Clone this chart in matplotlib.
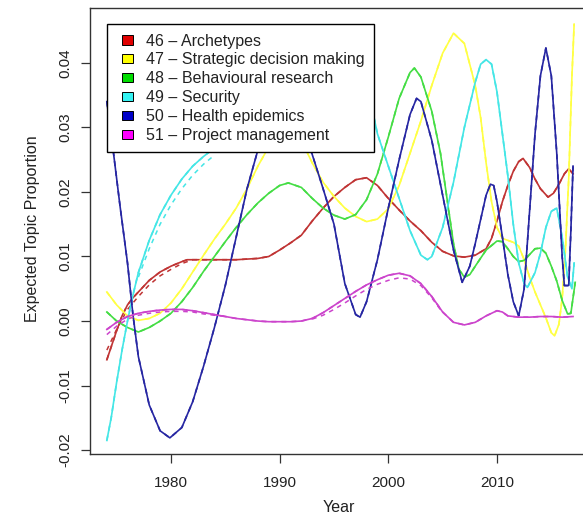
import matplotlib
matplotlib.use("Agg")
import matplotlib.pyplot as plt
from matplotlib.patches import Patch, Rectangle
from matplotlib.legend_handler import HandlerPatch

plt.rcParams['font.family'] = ['Liberation Sans', 'DejaVu Sans']

# topic labels and colours
topic_labels = ["46 \u2013 Archetypes", "47 \u2013 Strategic decision making",
                "48 \u2013 Behavioural research", "49 \u2013 Security",
                "50 \u2013 Health epidemics", "51 \u2013 Project management"]
line_colors = ['#C03434', '#FFFF44', '#44DD44', '#44E6E6', '#2626A2', '#CC44CC']
legend_colors = ['#E00000', '#FFFF00', '#00DD00', '#33F2F2', '#0000C8', '#FF00FF']

# 46 - Archetypes
t46_years = [1974.1, 1974.5, 1975, 1975.5, 1976, 1976.5, 1977, 1978, 1979, 1980, 1981, 1981.5,
             1982, 1984, 1986, 1988, 1989, 1990, 1991, 1992, 1993, 1994, 1995, 1996, 1997, 1998,
             1999, 2000, 2001, 2002, 2003, 2004, 2005, 2006, 2007, 2008, 2009, 2009.5, 2010, 2010.5,
             2011, 2011.5, 2012, 2012.4, 2013, 2013.5, 2014, 2014.7, 2015.2, 2015.7, 2016.2,
             2016.6, 2017]
t46_vals = [-0.0060, -0.0040, -0.0015, 0.0008, 0.0025, 0.0036, 0.0045, 0.0063, 0.0076, 0.0085,
            0.0092, 0.0095, 0.0095, 0.0095, 0.0095, 0.0097, 0.0100, 0.0110, 0.0121, 0.0133,
            0.0155, 0.0175, 0.0193, 0.0207, 0.0219, 0.0222, 0.0210, 0.0190, 0.0172, 0.0155,
            0.0140, 0.0122, 0.0108, 0.0101, 0.0099, 0.0102, 0.0112, 0.0128, 0.0155, 0.0185,
            0.0210, 0.0232, 0.0247, 0.0252, 0.0238, 0.0220, 0.0205, 0.0192, 0.0198, 0.0212,
            0.0228, 0.0236, 0.0228]
t46_dash_years = [1974.1, 1975, 1976, 1977, 1978, 1979, 1980, 1981, 1982]
t46_dash_vals = [-0.0045, -0.0013, 0.0018, 0.0038, 0.0056, 0.0070, 0.0080, 0.0089, 0.0095]

# 47 - Strategic decision making
t47_years = [1974.1, 1975, 1976, 1977, 1978, 1979, 1980, 1981, 1982, 1983, 1984, 1985, 1986,
             1987, 1988, 1989, 1990, 1991, 1992, 1993, 1994, 1995, 1996, 1997, 1998, 1999, 2000,
             2001, 2002, 2003, 2004, 2005, 2006, 2007, 2008, 2008.5, 2009, 2009.5, 2010, 2010.5,
             2011, 2011.5, 2012, 2012.5, 2013, 2013.5, 2014, 2014.5, 2015, 2015.3, 2015.7, 2016,
             2016.3, 2016.6, 2016.9, 2017.1]
t47_vals = [0.0045, 0.0025, 0.0008, 0.0001, 0.0004, 0.0012, 0.0028, 0.0050, 0.0076, 0.0102,
            0.0127, 0.0150, 0.0175, 0.0205, 0.0240, 0.0270, 0.0290, 0.0295, 0.0280, 0.0245,
            0.0215, 0.0193, 0.0175, 0.0162, 0.0154, 0.0158, 0.0174, 0.0210, 0.0260, 0.0310,
            0.0365, 0.0415, 0.0446, 0.0430, 0.0365, 0.0315, 0.0245, 0.0185, 0.0145, 0.0128,
            0.0125, 0.0122, 0.0116, 0.0095, 0.0068, 0.0045, 0.0025, 0.0005, -0.0018, -0.0023,
            -0.0005, 0.0035, 0.0110, 0.0220, 0.0380, 0.0460]

# 48 - Behavioural research
t48_years = [1974.1, 1975, 1976, 1977, 1978, 1979, 1980, 1981, 1982, 1983, 1984, 1985, 1986,
             1987, 1988, 1989, 1990, 1990.8, 1992, 1993, 1994, 1995, 1996, 1997, 1998, 1999,
             2000, 2001, 2002, 2002.4, 2003, 2004, 2004.8, 2005.4, 2006, 2006.5, 2007, 2007.5,
             2008, 2009, 2010, 2010.5, 2011, 2011.5, 2012, 2012.5, 2013, 2013.5, 2014, 2014.5,
             2015, 2015.5, 2016, 2016.5, 2016.8, 2017.2]
t48_vals = [0.0014, 0.0000, -0.0010, -0.0017, -0.0010, 0.0000, 0.0012, 0.0030, 0.0052, 0.0077,
            0.0100, 0.0123, 0.0145, 0.0165, 0.0183, 0.0198, 0.0210, 0.0214, 0.0207, 0.0190,
            0.0175, 0.0164, 0.0158, 0.0165, 0.0188, 0.0228, 0.0285, 0.0345, 0.0385, 0.0392,
            0.0378, 0.0325, 0.0260, 0.0190, 0.0120, 0.0080, 0.0068, 0.0072, 0.0085, 0.0110,
            0.0124, 0.0123, 0.0112, 0.0100, 0.0092, 0.0094, 0.0103, 0.0112, 0.0113, 0.0105,
            0.0085, 0.0062, 0.0032, 0.0011, 0.0012, 0.0060]

# 49 - Security
t49_years = [1974.1, 1974.5, 1975, 1975.5, 1976, 1976.5, 1977, 1978, 1979, 1980, 1981, 1982,
             1983, 1984, 1986, 1988, 1990, 1992, 1994, 1996, 1997, 1998, 1998.5, 1999, 2000,
             2001, 2002, 2003, 2003.6, 2004, 2005, 2006, 2007, 2008, 2008.5, 2009, 2009.5, 2010,
             2010.5, 2011, 2011.5, 2012, 2012.5, 2012.8, 2013.5, 2014, 2014.5, 2015, 2015.5,
             2016, 2016.5, 2016.9, 2017.1]
t49_vals = [-0.0185, -0.0150, -0.0095, -0.0045, 0.0000, 0.0040, 0.0075, 0.0125, 0.0165, 0.0195,
            0.0220, 0.0240, 0.0255, 0.0268, 0.0292, 0.0315, 0.0335, 0.0350, 0.0362, 0.0360,
            0.0352, 0.0340, 0.0330, 0.0290, 0.0240, 0.0190, 0.0140, 0.0102, 0.0095, 0.0100,
            0.0145, 0.0215, 0.0300, 0.0370, 0.0398, 0.0405, 0.0398, 0.0355, 0.0290, 0.0225,
            0.0150, 0.0090, 0.0058, 0.0052, 0.0075, 0.0105, 0.0145, 0.0170, 0.0175, 0.0130,
            0.0068, 0.0050, 0.0090]
t49_dash_years = [1977, 1978, 1979, 1980, 1981, 1982, 1983, 1984]
t49_dash_vals = [0.0068, 0.0112, 0.0150, 0.0180, 0.0205, 0.0226, 0.0243, 0.0257]

# 50 - Health epidemics
t50_years = [1974.1, 1974.7, 1975.3, 1976, 1976.5, 1977, 1978, 1979, 1979.9, 1981, 1982, 1983,
             1984, 1985, 1986, 1987, 1988, 1989, 1990, 1991, 1992, 1993, 1994, 1995, 1996, 1997,
             1997.4, 1998, 1999, 2000, 2001, 2002, 2002.6, 2003, 2004, 2005, 2006, 2006.8,
             2007.5, 2008, 2009, 2009.4, 2009.7, 2010, 2010.5, 2011, 2011.5, 2012, 2012.5, 2013,
             2013.5, 2014, 2014.5, 2015, 2015.5, 2016, 2016.2, 2016.6, 2016.8, 2017]
t50_vals = [0.0340, 0.0262, 0.0180, 0.0090, 0.0010, -0.0055, -0.0130, -0.0170, -0.0181, -0.0165,
            -0.0125, -0.0070, -0.0010, 0.0055, 0.0130, 0.0205, 0.0265, 0.0320, 0.0345, 0.0340,
            0.0305, 0.0258, 0.0205, 0.0150, 0.0058, 0.0010, 0.0006, 0.0030, 0.0095, 0.0175,
            0.0250, 0.0320, 0.0345, 0.0340, 0.0280, 0.0195, 0.0110, 0.0060, 0.0085, 0.0120,
            0.0195, 0.0212, 0.0210, 0.0185, 0.0130, 0.0072, 0.0030, 0.0008, 0.0050, 0.0170,
            0.0290, 0.0380, 0.0423, 0.0380, 0.0260, 0.0100, 0.0055, 0.0055, 0.0140, 0.0240]

# 51 - Project management
t51_years = [1974.1, 1975, 1976, 1977, 1978, 1979, 1980, 1981, 1982, 1983, 1984, 1985, 1986,
             1987, 1988, 1989, 1990, 1991, 1992, 1993, 1994, 1995, 1996, 1997, 1998, 1999, 2000,
             2001, 2002, 2003, 2004, 2005, 2006, 2007, 2008, 2009, 2010, 2010.5, 2011, 2012,
             2013, 2014, 2015, 2016, 2017]
t51_vals = [-0.0013, -0.0002, 0.0007, 0.0012, 0.0015, 0.0017, 0.0018, 0.0018, 0.0016, 0.0013,
            0.0010, 0.0007, 0.0004, 0.0002, 0.0000, -0.0001, -0.0001, -0.0001, 0.0000, 0.0004,
            0.0013, 0.0024, 0.0035, 0.0046, 0.0056, 0.0064, 0.0071, 0.0074, 0.0070, 0.0058,
            0.0038, 0.0014, -0.0002, -0.0006, -0.0002, 0.0008, 0.0016, 0.0014, 0.0008, 0.0006,
            0.0006, 0.0007, 0.0007, 0.0006, 0.0007]
t51_dash1_years = [1974.1, 1975, 1976, 1977, 1978, 1979, 1980, 1981, 1982, 1983, 1984, 1985]
t51_dash1_vals = [-0.0021, -0.0008, 0.0003, 0.0009, 0.0012, 0.0014, 0.0015, 0.0015, 0.0014,
                  0.0011, 0.0009, 0.0007]
t51_dash2_years = [1993, 1994, 1995, 1996, 1997, 1998, 1999, 2000, 2001, 2002, 2003, 2004, 2005]
t51_dash2_vals = [0.0003, 0.0009, 0.0018, 0.0028, 0.0039, 0.0049, 0.0057, 0.0063, 0.0067,
                  0.0065, 0.0055, 0.0036, 0.0013]

x_ticks = [1980, 1990, 2000, 2010]
y_ticks = [-0.02, -0.01, 0.00, 0.01, 0.02, 0.03, 0.04]
y_tick_labels = ["-0.02", "-0.01", "0.00", "0.01", "0.02", "0.03", "0.04"]

series = [
    (t46_years, t46_vals, [(t46_dash_years, t46_dash_vals)]),
    (t47_years, t47_vals, []),
    (t48_years, t48_vals, []),
    (t49_years, t49_vals, [(t49_dash_years, t49_dash_vals)]),
    (t50_years, t50_vals, []),
    (t51_years, t51_vals, [(t51_dash1_years, t51_dash1_vals), (t51_dash2_years, t51_dash2_vals)]),
]


def small_square(legend, orig_handle, xdescent, ydescent, width, height, fontsize):
    # square key sitting at the right end of the handle box, like R's legend fill boxes
    w = 0.68 * fontsize
    h = 0.58 * fontsize
    return Rectangle((-xdescent + width - w, -ydescent + (height - h) / 2), w, h)


fig = plt.figure(figsize=(5.83, 5.19), dpi=100)
ax = fig.add_axes([90 / 583, 65 / 519, 495 / 583, 446 / 519])

dash = (0, (3, 3))
for (yrs, vals, extra), col in zip(series, line_colors):
    ax.plot(yrs, vals, color=col, lw=1.2)
    ax.plot(yrs, vals, color=col, lw=1.2, linestyle=dash)
    for dy, dv in extra:
        ax.plot(dy, dv, color=col, lw=1.1, linestyle=dash)

ax.set_xlim(1972.55, 2018.1)
ax.set_ylim(-0.0206, 0.0485)
ax.set_xticks(x_ticks)
ax.set_xticklabels([str(t) for t in x_ticks])
ax.set_yticks(y_ticks)
ax.set_yticklabels(y_tick_labels, rotation=90, va='center')

for s in ax.spines.values():
    s.set_color('#333333')
    s.set_linewidth(1.0)
ax.tick_params(direction='out', length=6.5, width=0.9, color='#333333',
               labelsize=11, labelcolor='#222222')
ax.tick_params(axis='x', pad=9)
ax.tick_params(axis='y', pad=6.2)

fig.text(33 / 583, 1 - 229 / 519, "Expected Topic Proportion", rotation=90,
         ha='center', va='center', fontsize=11.5, color='#222222')
fig.text(339 / 583, 1 - 508 / 519, "Year", ha='center', va='center',
         fontsize=11.5, color='#222222')

handles = [Patch(facecolor=c, edgecolor='black', linewidth=0.7) for c in legend_colors]
leg = ax.legend(handles, topic_labels, loc='upper left',
                bbox_to_anchor=(107 / 583, 1 - 24 / 519), bbox_transform=fig.transFigure,
                fontsize=11.5, frameon=True, fancybox=False, edgecolor='black', framealpha=1,
                borderaxespad=0, handlelength=1.0, handleheight=0.7, handletextpad=0.84,
                labelspacing=0.24, borderpad=0.6,
                handler_map={Patch: HandlerPatch(patch_func=small_square)})
leg.get_frame().set_linewidth(1.0)
for t in leg.get_texts():
    t.set_color('#222222')

fig.savefig("out.png", dpi=100)
